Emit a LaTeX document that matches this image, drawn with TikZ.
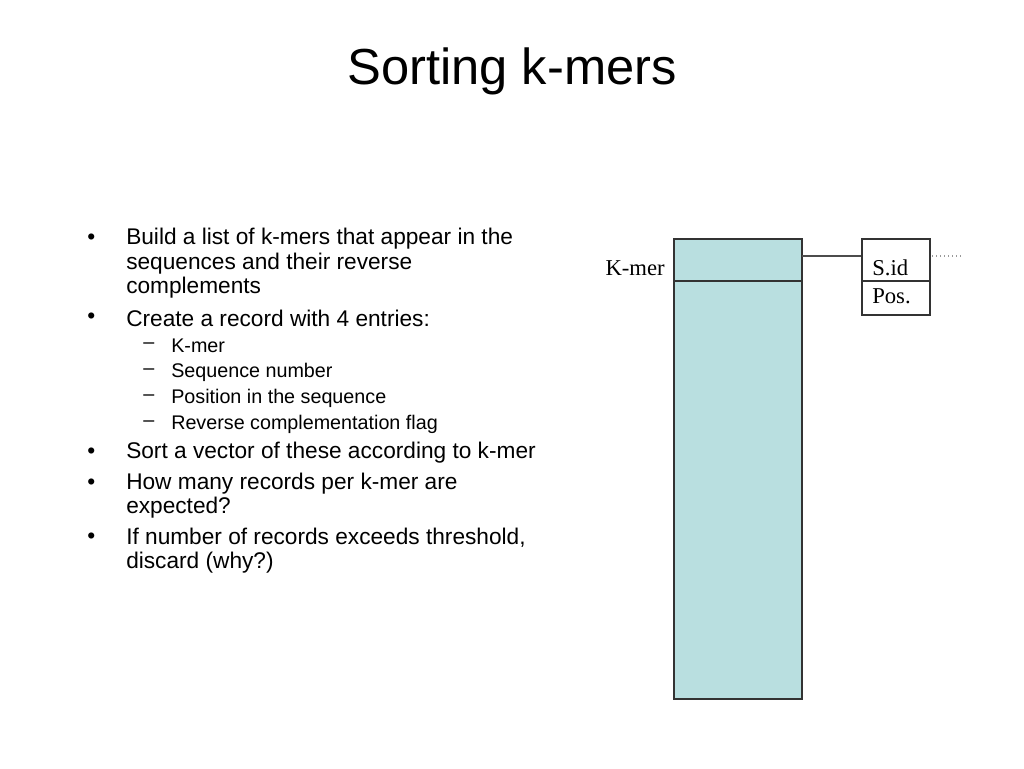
\documentclass[tikz,border=0pt]{standalone}
\usepackage{fontspec}
\setmainfont{Liberation Sans}
\newfontfamily\serifF{Liberation Serif}
\begin{document}
\begin{tikzpicture}[x=0.75pt,y=-0.75pt,
  main/.style={anchor=west,inner sep=0pt,font=\fontsize{17}{20}\selectfont},
  sub/.style={anchor=west,inner sep=0pt,font=\fontsize{14.8}{18}\selectfont},
  lab/.style={inner sep=0pt,font=\serifF\fontsize{17}{20}\selectfont},
  box/.style={draw=black!80,line width=0.8pt}]
\useasboundingbox (0,0) rectangle (1024,768);
\node[inner sep=0pt,font=\fontsize{38}{46}\selectfont] (title) at (512,71) {Sorting k-mers};
% bullets
\foreach \y in {239,318,453,484,538} \node[main] at (87,\y) {•};
\foreach \y in {346,372,398,424} \node[sub] at (143,\y) {–};
\node[main] (b1) at (126,239) {Build a list of k-mers that appear in the};
\node[main] (b1b) at (126,264) {sequences and their reverse};
\node[main] (b1c) at (126,288) {complements};
\node[main] (b2) at (126,318) {Create a record with 4 entries:};
\node[sub] (s1) at (171,346) {K-mer};
\node[sub] (s2) at (171,372) {Sequence number};
\node[sub] (s3) at (171,398) {Position in the sequence};
\node[sub] (s4) at (171,424) {Reverse complementation flag};
\node[main] (b3) at (126,453) {Sort a vector of these according to k-mer};
\node[main] (b4) at (126,484) {How many records per k-mer are};
\node[main] (b4b) at (126,508) {expected?};
\node[main] (b5) at (126,538) {If number of records exceeds threshold,};
\node[main] (b5b) at (126,563) {discard (why?)};
% diagram
\fill[fill={rgb,255:red,185;green,223;blue,224}] (674,239) rectangle (802,699);
\draw[box] (674,239) rectangle (802,699);
\draw[box] (674,281) -- (802,281);
\coordinate (kr) at (802,256);
\node[draw=black!80,line width=0.8pt,minimum width=51pt,minimum height=57pt,inner sep=0pt] (rec) at (896,277) {};
\draw[box] (862,281) -- (930,281);
\draw[black!70,line width=1pt] (kr) -- (rec.west |- kr);
\coordinate (d1) at (932,256); \coordinate (d2) at (963,256);
\draw[black!40,line width=1pt,dotted] (d1) -- (d2);
\node[lab,anchor=east] (km) at (665,268) {K-mer};
\node[lab,anchor=west] (sid) at (872,268) {S.id};
\node[lab,anchor=west] (pos) at (872,296) {Pos.};
\end{tikzpicture}
\end{document}
